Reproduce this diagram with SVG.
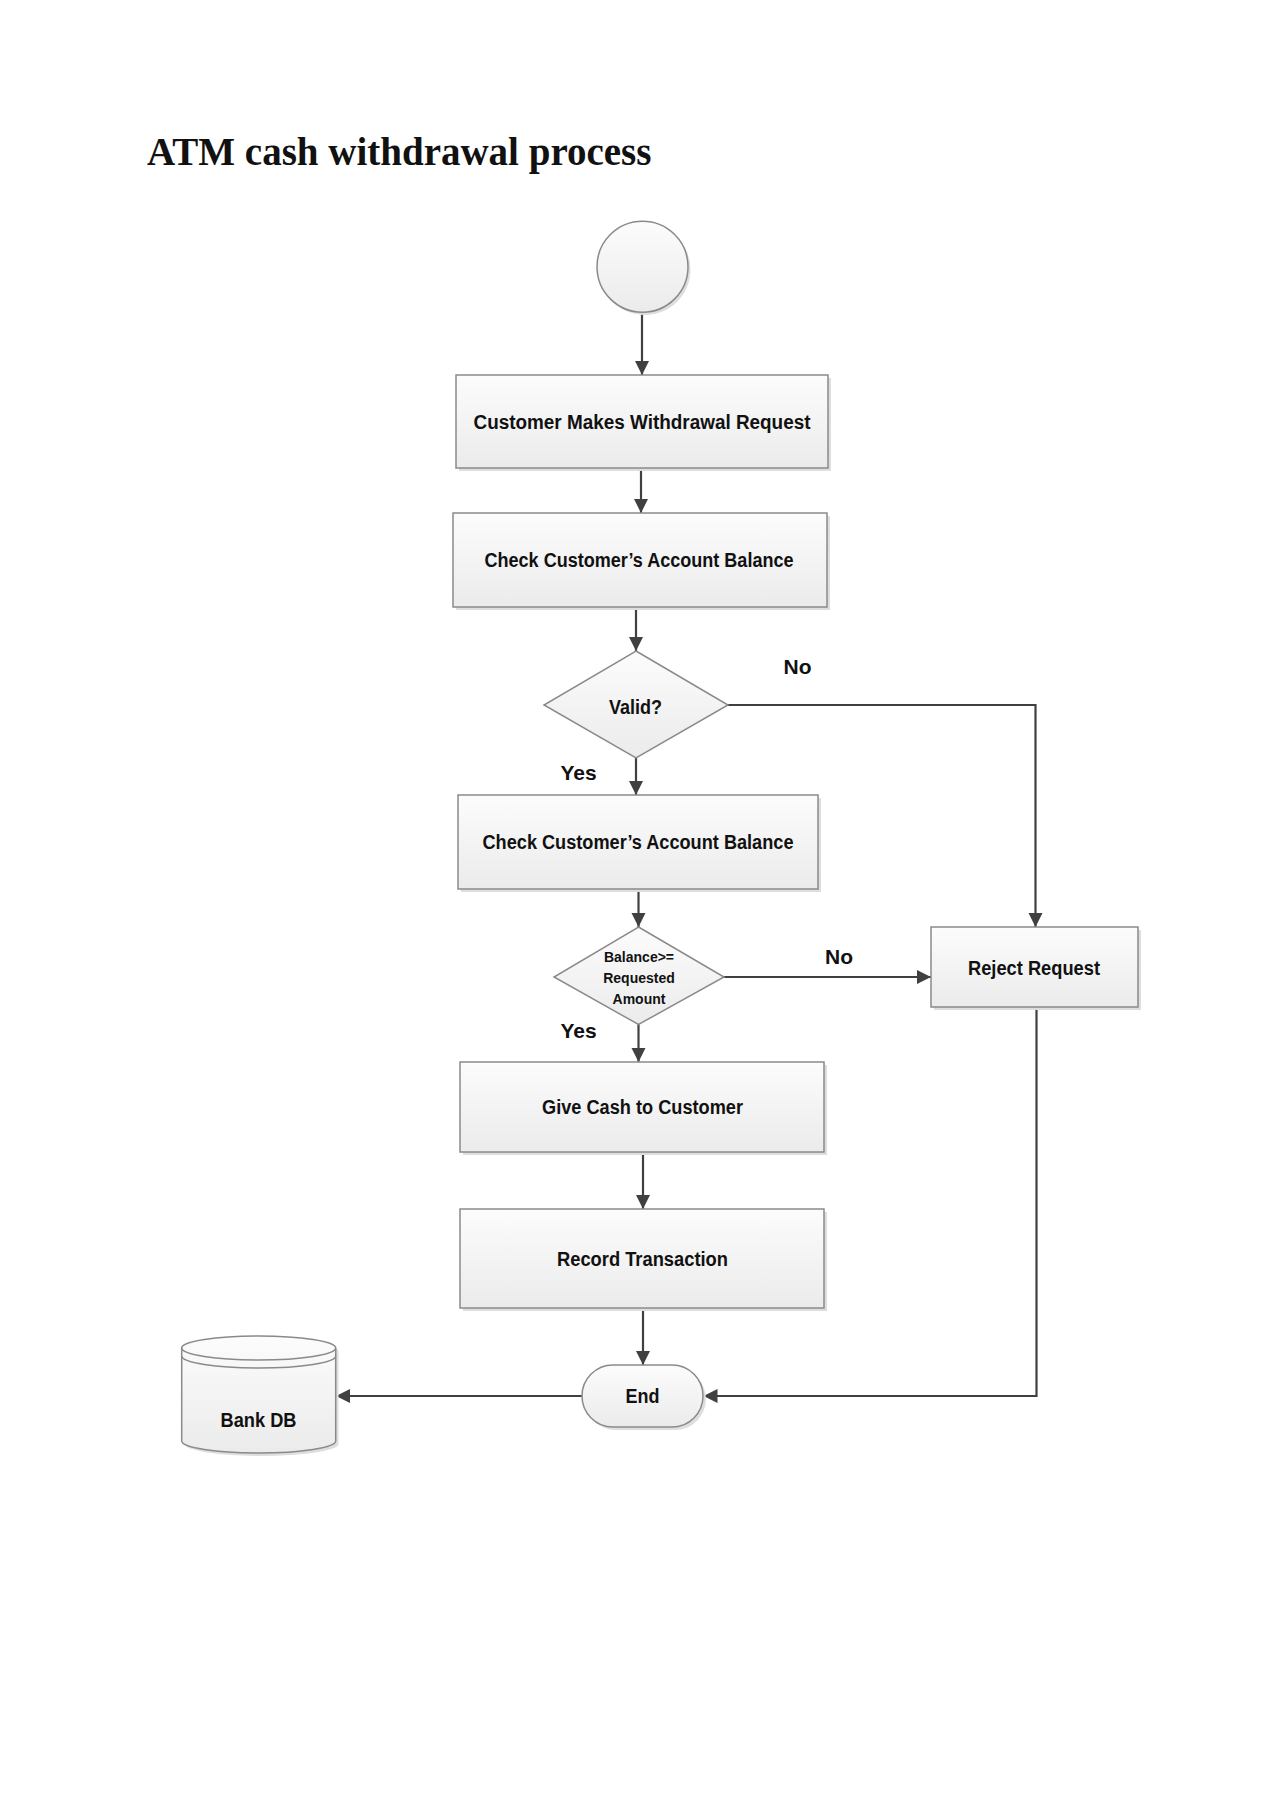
<svg xmlns="http://www.w3.org/2000/svg" width="1280" height="1810" viewBox="0 0 1280 1810">
  <style>
    .shape { fill: url(#g); stroke: #8a8a8a; stroke-width: 1.5; }
    .shadow { fill: #dedede; stroke: none; }
    .conn { fill: none; stroke: #404040; stroke-width: 2.2; }
    .lbl { font-family: "Liberation Sans", Arial, sans-serif; font-weight: bold; font-size: 19.5px; fill: #111; text-anchor: middle; }
    .small { font-size: 14px; }
    .yn { font-size: 21px; }
    .title { font-family: "Liberation Serif", "Times New Roman", serif; font-weight: bold; font-size: 39px; fill: #111; }
  </style>
  <defs>
    <linearGradient id="g" x1="0" y1="0" x2="0" y2="1">
      <stop offset="0" stop-color="#fcfcfc"/>
      <stop offset="1" stop-color="#ebebeb"/>
    </linearGradient>
    <marker id="arr" markerUnits="userSpaceOnUse" markerWidth="15" markerHeight="15" refX="14" refY="7" orient="auto">
      <path d="M0,0 L14,7 L0,14 Z" fill="#404040"/>
    </marker>
  </defs>
  <rect width="1280" height="1810" fill="#ffffff"/>

  <text class="title" x="147" y="165">ATM cash withdrawal process</text>

  <g id="connectors">
    <path class="conn" d="M642,312 L642,375" marker-end="url(#arr)"/>
    <path class="conn" d="M641,468 L641,513" marker-end="url(#arr)"/>
    <path class="conn" d="M636,607 L636,651" marker-end="url(#arr)"/>
    <path class="conn" d="M636,758 L636,795" marker-end="url(#arr)"/>
    <path class="conn" d="M728,705 L1035.5,705 L1035.5,927" marker-end="url(#arr)"/>
    <path class="conn" d="M638.5,889 L638.5,927" marker-end="url(#arr)"/>
    <path class="conn" d="M724,977 L931,977" marker-end="url(#arr)"/>
    <path class="conn" d="M638.5,1024 L638.5,1062" marker-end="url(#arr)"/>
    <path class="conn" d="M643,1152 L643,1209" marker-end="url(#arr)"/>
    <path class="conn" d="M643,1308 L643,1365" marker-end="url(#arr)"/>
    <path class="conn" d="M1036.5,1007 L1036.5,1396 L703.5,1396" marker-end="url(#arr)"/>
    <path class="conn" d="M582,1396 L336,1396" marker-end="url(#arr)"/>
    <text class="lbl yn" x="797.5" y="673.5">No</text>
    <text class="lbl yn" x="578.5" y="780">Yes</text>
    <text class="lbl yn" x="839" y="964">No</text>
    <text class="lbl yn" x="578.5" y="1038">Yes</text>
  </g>

  <g id="start">
    <circle cx="645" cy="269.5" r="45.5" class="shadow"/>
    <circle cx="642.5" cy="266.7" r="45.5" class="shape"/>
  </g>

  <g id="customer-request">
    <rect x="459" y="378" width="372" height="93" class="shadow"/>
    <rect x="456" y="375" width="372" height="93" class="shape"/>
    <text class="lbl" x="642" y="428.5" textLength="337" lengthAdjust="spacingAndGlyphs">Customer Makes Withdrawal Request</text>
  </g>

  <g id="check-balance-1">
    <rect x="456" y="516" width="374" height="94" class="shadow"/>
    <rect x="453" y="513" width="374" height="94" class="shape"/>
    <text class="lbl" x="639" y="567" textLength="309" lengthAdjust="spacingAndGlyphs">Check Customer’s Account Balance</text>
  </g>

  <g id="valid">
    <path d="M636,651 L728,705 L636,758 L544,705 Z" class="shape"/>
    <text class="lbl" x="635.5" y="713.5" textLength="53" lengthAdjust="spacingAndGlyphs">Valid?</text>
  </g>

  <g id="check-balance-2">
    <rect x="461" y="798" width="360" height="94" class="shadow"/>
    <rect x="458" y="795" width="360" height="94" class="shape"/>
    <text class="lbl" x="638" y="849" textLength="311" lengthAdjust="spacingAndGlyphs">Check Customer’s Account Balance</text>
  </g>

  <g id="balance-check">
    <path d="M638.5,927 L724,977 L638.5,1024.5 L554,977 Z" class="shape"/>
    <text class="lbl small" x="639" y="961.5">Balance&gt;=</text>
    <text class="lbl small" x="639" y="982.5">Requested</text>
    <text class="lbl small" x="639" y="1003.5">Amount</text>
  </g>

  <g id="reject">
    <rect x="934" y="930" width="207" height="80" class="shadow"/>
    <rect x="931" y="927" width="207" height="80" class="shape"/>
    <text class="lbl" x="1034" y="975" textLength="132" lengthAdjust="spacingAndGlyphs">Reject Request</text>
  </g>

  <g id="give-cash">
    <rect x="463" y="1065" width="364" height="90" class="shadow"/>
    <rect x="460" y="1062" width="364" height="90" class="shape"/>
    <text class="lbl" x="642.5" y="1113.5" textLength="201" lengthAdjust="spacingAndGlyphs">Give Cash to Customer</text>
  </g>

  <g id="record">
    <rect x="463" y="1212" width="364" height="99" class="shadow"/>
    <rect x="460" y="1209" width="364" height="99" class="shape"/>
    <text class="lbl" x="642.5" y="1266" textLength="171" lengthAdjust="spacingAndGlyphs">Record Transaction</text>
  </g>

  <g id="end">
    <rect x="585" y="1368" width="121" height="62" rx="31" class="shadow"/>
    <rect x="582" y="1365" width="121" height="62" rx="31" class="shape"/>
    <text class="lbl" x="642.5" y="1403" textLength="34" lengthAdjust="spacingAndGlyphs">End</text>
  </g>

  <g id="bank-db">
    <path d="M184.5,1351 A77,12 0 0 1 338.5,1351 L338.5,1444 A77,12 0 0 1 184.5,1444 Z" class="shadow"/>
    <path d="M181.7,1348 A77,12 0 0 1 335.7,1348 L335.7,1441 A77,12 0 0 1 181.7,1441 Z" class="shape"/>
    <path d="M181.7,1348 A77,12 0 0 0 335.7,1348" fill="none" stroke="#8a8a8a" stroke-width="1.5"/>
    <path d="M181.7,1356 A77,12 0 0 0 335.7,1356" fill="none" stroke="#8a8a8a" stroke-width="1.5"/>
    <text class="lbl" x="258.5" y="1427" textLength="76" lengthAdjust="spacingAndGlyphs">Bank DB</text>
  </g>
</svg>
